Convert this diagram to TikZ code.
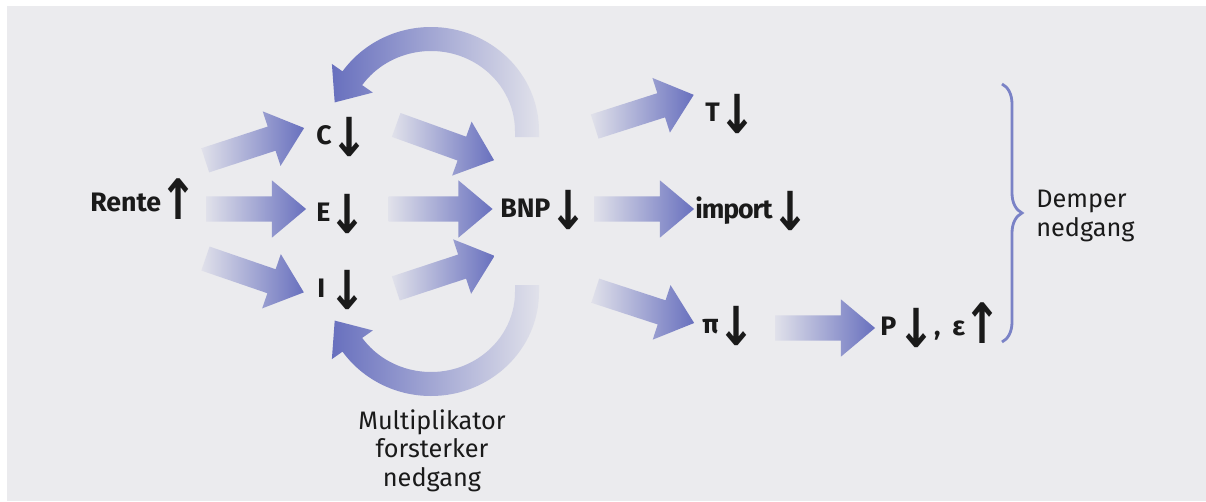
\documentclass[tikz,border=0pt]{standalone}
\usepackage{fontspec}
\setmainfont{Fira Sans}
\newfontfamily\arrfont{DejaVu Sans}
\usetikzlibrary{shapes.arrows,decorations.pathreplacing}

\definecolor{bggrey}{RGB}{235,235,238}
\definecolor{flowblue}{RGB}{104,112,190}
\colorlet{flowfade}{flowblue!8!bggrey}
\definecolor{bracecol}{RGB}{122,130,198}
\definecolor{inkcol}{RGB}{26,26,26}

% arrows after the labels
\newcommand\dn{\raisebox{-9pt}{\resizebox{27pt}{28pt}{\arrfont\raisebox{\depth}{↓}}}}
\newcommand\upar{\raisebox{-6pt}{\resizebox{27pt}{29pt}{\arrfont\raisebox{\depth}{↑}}}}

\tikzset{
  lbl/.style={font=\fontsize{19}{23}\selectfont\bfseries, text=inkcol, inner sep=0pt, anchor=base west},
  note/.style={font=\fontsize{18}{20.5}\selectfont, text=inkcol, inner sep=0pt},
  flow/.style={single arrow, draw=none, sloped, midway, minimum height=2.6cm, minimum width=0pt,
    inner xsep=0pt, inner ysep=0.31cm, single arrow head extend=0.4cm, single arrow tip angle=80,
    left color=flowfade, right color=flowblue},
  loop/.style={left color=flowblue, middle color=flowblue!60!flowfade, right color=flowfade},
}

\begin{document}
\begin{tikzpicture}[x=0.025cm, y=-0.025cm]
\useasboundingbox (0,0) rectangle (1206,501);
\fill[white] (0,0) rectangle (1206,501);
\fill[bggrey] (7,6) rectangle (1206,501);

% Labels
\node[lbl] (rente) at (90,211) {Rente\kern-1pt\upar};
\node[lbl] (c) at (316,144) {C\kern-1pt\dn};
\node[lbl] (e) at (316,221) {E\kern-1pt\dn};
\node[lbl] (i) at (317,297) {I\kern2.5pt\dn};
\node[lbl] (bnp) at (500,217) {BNP\kern-1pt\dn};
\node[lbl] (t) at (705,121) {T\kern-1pt\dn};
\node[lbl] (import) at (695,218) {{\addfontfeature{LetterSpace=-4}import}\kern-1pt\dn};
\node[lbl] (pi) at (702,333) {π\kern-1pt\dn};
\node[lbl] (pe) at (880,335) {P\kern0.7pt\dn\kern-0.8pt,\kern8.4pt ε\kern-1pt\upar};

% Rente to C, E, I
\path ([shift={(107,-48)}]rente.base west) -- ([shift={(-18,-14)}]c.base west) node[flow] {};
\path ([shift={(109,-2)}]rente.base west) -- ([shift={(-18,-12)}]e.base west) node[flow, minimum height=2.5cm] {};
\path ([shift={(108,45)}]rente.base west) -- ([shift={(-20,-7)}]i.base west) node[flow] {};

% C, E, I to BNP
\path ([shift={(72,-22)}]c.base west) -- ([shift={(-12,-59)}]bnp.base west) node[flow] {};
\path ([shift={(64,-12)}]e.base west) -- ([shift={(-14,-8)}]bnp.base west) node[flow, minimum height=2.6cm] {};
\path ([shift={(71,-6)}]i.base west) -- ([shift={(-12,41)}]bnp.base west) node[flow] {};

% BNP to T, import, pi
\path ([shift={(87,-88)}]bnp.base west) -- ([shift={(-18,-24)}]t.base west) node[flow] {};
\path ([shift={(87,-8)}]bnp.base west) -- ([shift={(-9,-9)}]import.base west) node[flow, minimum height=2.5cm] {};
\path ([shift={(87,71)}]bnp.base west) -- ([shift={(-14,-12)}]pi.base west) node[flow] {};

% pi to P, epsilon
\path ([shift={(66,-5)}]pi.base west) -- ([shift={(-13,-7)}]pe.base west) node[flow, minimum height=2.5cm] {};

% Multiplier loops
\coordinate (topc) at (431,131);
\coordinate (botc) at (431,292);
\shade[loop, shift={(topc)}] (108,6) -- (0:108 and 104)
  arc[start angle=0, end angle=-145, x radius=108, y radius=104]
  -- (-145:121 and 117) -- (-96.3,-28.6) -- (-145:71 and 67) -- (-145:84 and 80)
  arc[start angle=-145, end angle=0, x radius=84, y radius=80] -- (84,6) -- cycle;
\shade[loop, shift={(botc)}] (108,-7) -- (0:108 and 104)
  arc[start angle=0, end angle=145, x radius=108, y radius=104]
  -- (145:121 and 117) -- (-96.3,28.6) -- (145:71 and 67) -- (145:84 and 80)
  arc[start angle=145, end angle=0, x radius=84, y radius=80] -- (84,-7) -- cycle;
\node[note, anchor=north, align=center] (mult) at (432,409) {Multiplikator\\forsterker\\nedgang};

% Brace
\draw[bracecol, line width=0.07cm, decorate, decoration={brace, amplitude=0.5cm}] (1002,84) -- (1002,342);
\node[note, anchor=west, align=left] (demper) at (1036,216) {Demper\\nedgang};
\end{tikzpicture}
\end{document}
